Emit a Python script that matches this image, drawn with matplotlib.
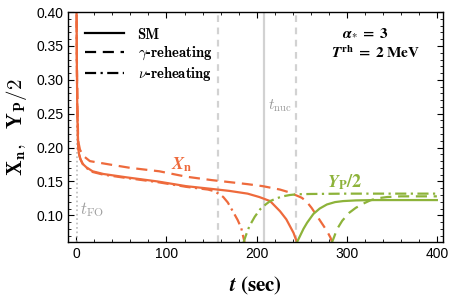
import matplotlib
matplotlib.use('Agg')
import matplotlib.pyplot as plt

plt.rcParams['mathtext.fontset'] = 'cm'
plt.rcParams['font.family'] = ['Liberation Sans', 'DejaVu Sans']

# neutron fraction X_n, SM
t_xn_sm = [0, 0.5, 1, 2, 3, 4.5, 7, 11, 18, 30, 56, 90, 122, 150, 170, 190, 203, 215, 226, 233, 237, 241, 244, 247]
xn_sm = [0.45, 0.33, 0.26, 0.20, 0.19, 0.183, 0.176, 0.171, 0.165, 0.161, 0.156, 0.150, 0.143, 0.139, 0.136, 0.132,
         0.127, 0.121, 0.106, 0.094, 0.084, 0.074, 0.063, 0.05]
# X_n, gamma-reheating
t_xn_g = [0, 0.5, 1, 2, 4, 7.5, 15, 37, 60, 92, 122, 150, 170, 190, 207, 226, 236, 243, 250, 255, 261, 267, 272,
          278, 282, 285]
xn_g = [0.45, 0.34, 0.28, 0.21, 0.197, 0.188, 0.180, 0.175, 0.170, 0.165, 0.157, 0.152, 0.149, 0.146, 0.143, 0.138,
        0.134, 0.130, 0.126, 0.121, 0.111, 0.099, 0.089, 0.077, 0.067, 0.055]
# X_n, nu-reheating
t_xn_n = [0, 0.5, 1, 2, 3, 4.5, 7, 11, 18, 30, 56, 90, 122, 146, 152, 159, 163, 168, 174, 179, 183, 187]
xn_n = [0.45, 0.33, 0.26, 0.20, 0.19, 0.183, 0.176, 0.170, 0.164, 0.160, 0.155, 0.149, 0.142, 0.138, 0.136, 0.131,
        0.127, 0.119, 0.105, 0.093, 0.081, 0.058]

# helium Y_P/2
t_yp_sm = [244, 248, 252, 256, 263, 270, 278, 287, 296, 310, 330, 400]
yp_sm = [0.058, 0.069, 0.080, 0.089, 0.102, 0.110, 0.116, 0.1195, 0.121, 0.122, 0.1225, 0.1225]
t_yp_g = [283, 286, 289, 295, 303, 310, 318, 326, 333, 345, 360, 400]
yp_g = [0.058, 0.068, 0.079, 0.092, 0.104, 0.111, 0.117, 0.122, 0.125, 0.127, 0.128, 0.128]
t_yp_n = [185, 188, 192, 198, 204, 210, 215, 222, 229, 237, 244, 260, 300, 400]
yp_n = [0.058, 0.070, 0.084, 0.098, 0.109, 0.116, 0.121, 0.125, 0.128, 0.130, 0.131, 0.1315, 0.132, 0.132]

t_fo = 1
t_nuc = 208
t_g_lines = [157, 244]

orange = '#EE6A3C'
green = '#8DB33A'
gray = '#D2D2D2'

fig = plt.figure(figsize=(4.49, 3.03), dpi=100)
ax = fig.add_axes([0.152, 0.200, 0.835, 0.760])

ax.axvline(t_fo, color='#BBBBBB', lw=1.2, ls=':')
ax.axvline(t_nuc, color=gray, lw=1.6)
for tv in t_g_lines:
    ax.axvline(tv, color=gray, lw=1.6, ls=(0, (3, 2.5)))

ax.plot(t_xn_sm, xn_sm, color=orange, lw=1.6)
ax.plot(t_xn_g, xn_g, color=orange, lw=1.6, ls=(0, (5, 3)))
ax.plot(t_xn_n, xn_n, color=orange, lw=1.6, ls=(0, (5, 2, 1, 2)))
ax.plot(t_yp_sm, yp_sm, color=green, lw=1.6)
ax.plot(t_yp_g, yp_g, color=green, lw=1.6, ls=(0, (5, 3)))
ax.plot(t_yp_n, yp_n, color=green, lw=1.6, ls=(0, (5, 2, 1, 2)))

# legend handles
ax.plot([], [], color='black', lw=1.6, label='SM')
ax.plot([], [], color='black', lw=1.6, ls=(0, (5, 3)), label=r'$\gamma$-reheating')
ax.plot([], [], color='black', lw=1.6, ls=(0, (5, 2, 1, 2)), label=r'$\nu$-reheating')
handles, labels = ax.get_legend_handles_labels()
leg = ax.legend(handles[-3:], labels[-3:], loc='upper left', bbox_to_anchor=(0.01, 0.99), frameon=False,
                handlelength=2.7, handletextpad=0.9, labelspacing=0.22, prop={'family': 'cmb10', 'size': 10.5})

ax.text(0.73, 0.895, r'$\mathbfit{\alpha}_{*}\;\mathbf{=}\;\mathbf{3}$', transform=ax.transAxes, fontsize=11,
        math_fontfamily='stix')
ax.text(0.70, 0.80, r'$\mathbfit{T}^{\,\mathbf{rh}}\;\mathbf{=}\;\mathbf{2\ MeV}$', transform=ax.transAxes,
        fontsize=11, math_fontfamily='stix')

ax.text(117, 0.175, r'$\mathbfit{X}_\mathbf{n}$', color=orange, fontsize=13, ha='center', va='center',
        math_fontfamily='stix')
ax.text(298, 0.149, r'$\mathbfit{Y}_\mathbf{P}\mathbf{/2}$', color=green, fontsize=13, ha='center', va='center',
        math_fontfamily='stix')
ax.text(226, 0.262, r'$t_{\rm nuc}$', color='#999999', fontsize=11, ha='center', va='center')
ax.text(17, 0.109, r'$t_{\rm FO}$', color='#A0A0A0', fontsize=12, ha='center', va='center')

ax.set_xlim(-9, 407)
ax.set_ylim(0.06, 0.40)
ax.set_xticks([0, 100, 200, 300, 400])
ax.set_xticks(range(0, 401, 20), minor=True)
ax.set_yticks([0.10, 0.15, 0.20, 0.25, 0.30, 0.35, 0.40])
ax.set_yticks([0.06 + 0.01 * i for i in range(35)], minor=True)
ax.set_yticklabels(['0.10', '0.15', '0.20', '0.25', '0.30', '0.35', '0.40'])
ax.tick_params(which='both', direction='in', top=True, right=True, labelsize=10)
ax.tick_params(which='major', length=4)
ax.tick_params(which='minor', length=2)
for s in ax.spines.values():
    s.set_linewidth(1.0)

ax.set_xlabel(r'$\mathbfit{t}\ \mathbf{(sec)}$', fontsize=15, labelpad=10, math_fontfamily='stix')
ax.set_ylabel(r'$\mathbf{X}_\mathbf{n},\ \ \mathbf{Y}_\mathbf{P}\mathbf{/2}$', fontsize=15, labelpad=5)

fig.savefig('out.png', dpi=100)
